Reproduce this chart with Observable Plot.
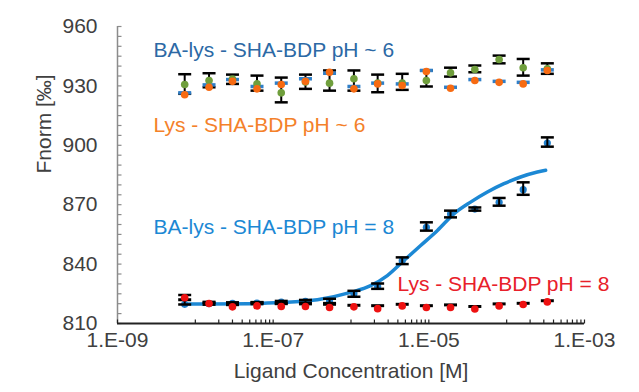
<!DOCTYPE html>
<html><head><meta charset="utf-8">
<script src="https://cdn.jsdelivr.net/npm/d3@7"></script>
<script src="https://cdn.jsdelivr.net/npm/@observablehq/plot@0.6"></script>
<style>body{margin:0;background:#fff;} svg{font-family:"Liberation Sans",Arial,sans-serif;}</style>
</head><body><div id="chart"></div>
<script>
// Ligand concentrations [M]
const conc = [7.3e-9, 1.5e-8, 3.0e-8, 6.2e-8, 1.27e-7, 2.6e-7, 5.3e-7, 1.09e-6, 2.2e-6, 4.55e-6, 9.3e-6, 1.9e-5, 3.9e-5, 8.0e-5, 1.63e-4, 3.33e-4];

// pH ~ 6
const green6  = [930.7, 932.7, 933.4, 931.0, 926.5, 932.0, 931.4, 933.6, 931.5, 931.4, 932.7, 936.6, 938.3, 943.3, 939.2, 938.6];
const orange6 = [925.5, 929.3, 932.3, 928.5, 930.7, 932.3, 936.9, 928.5, 931.0, 930.2, 937.3, 928.8, 932.7, 931.8, 931.0, 937.8];
const blue6   = [926.5, 930.5, 933.2, 929.7, 931.4, 933.6, 936.4, 929.7, 931.4, 931.0, 937.8, 929.3, 933.2, 932.3, 931.8, 938.1];
const err6Lo  = [926.0, 929.3, 931.0, 927.6, 921.7, 928.5, 927.6, 927.6, 926.8, 928.0, 929.7, 934.7, 936.9, 941.4, 935.2, 936.1];
const err6Hi  = [935.9, 936.4, 935.7, 935.2, 934.2, 935.7, 937.8, 937.8, 935.7, 936.1, 937.8, 939.2, 940.3, 945.3, 943.6, 941.4];

// pH = 8
const blue8   = [819.7, 820.0, 820.2, 820.3, 820.8, 821.2, 821.5, 825.0, 828.7, 841.7, 858.5, 865.3, 867.8, 871.2, 877.6, 901.1];
const err8Lo  = [819.6, 819.5, 819.7, 819.8, 820.2, 820.5, 820.3, 823.5, 827.5, 840.0, 856.9, 863.6, 867.0, 869.5, 875.0, 899.3];
const err8Hi  = [824.4, 820.5, 820.7, 820.8, 821.4, 821.9, 822.5, 826.5, 830.2, 843.4, 861.1, 867.0, 868.6, 873.4, 881.3, 904.0];
const red8    = [823.0, 820.1, 818.4, 818.9, 818.6, 818.6, 818.1, 818.4, 817.5, 818.9, 818.1, 818.1, 817.3, 818.9, 819.6, 820.9];
const black8  = [822.0, 820.8, 819.5, 820.5, 820.0, 819.9, 819.7, 819.2, 819.0, 819.7, 819.0, 819.4, 818.6, 819.9, 820.2, 821.5];

// fitted curve
const fitConc = [7.3e-9, 5.1e-8, 1.37e-7, 3.7e-7, 9.9e-7, 1.79e-6, 2.93e-6, 4.79e-6, 7.85e-6, 1.29e-5, 2.10e-5, 3.44e-5, 5.65e-5, 9.23e-5, 1.51e-4, 2.48e-4, 3.17e-4];
const fitVal  = [819.8, 820.0, 820.7, 822.0, 825.7, 829.1, 834.2, 841.8, 849.4, 857.0, 865.4, 871.3, 876.4, 880.6, 884.0, 886.5, 887.4];

// axes
const yMajor = [810, 840, 870, 900, 930, 960];
const yMinor = d3.range(810, 961, 5);
const xMajor = [1e-9, 1e-7, 1e-5, 1e-3];
const xLabels = ["1.E-09", "1.E-07", "1.E-05", "1.E-03"];
const xMinor = [1e-8, 1e-6, 1e-4].flatMap(b => d3.range(1, 10).map(k => k * b));

const labels = ["BA-lys - SHA-BDP pH ~ 6", "Lys - SHA-BDP pH ~ 6", "BA-lys - SHA-BDP pH = 8", "Lys - SHA-BDP pH = 8"];

const idx = d3.range(conc.length);
const hDash = w => ({draw(ctx) { ctx.moveTo(-w / 2, 0); ctx.lineTo(w / 2, 0); }});
const yTickSym = {draw(ctx) { ctx.moveTo(0, 0); ctx.lineTo(4, 0); }};
const xTickSym = {draw(ctx) { ctx.moveTo(0, 0); ctx.lineTo(0, -4); }};
const FS = 21;

const errMarks = (lo, hi) => [
  Plot.ruleX(idx, {x: i => conc[i], y1: i => lo[i], y2: i => hi[i], stroke: "#000", strokeWidth: 2}),
  Plot.dot(idx, {x: i => conc[i], y: i => lo[i], symbol: hDash(13), stroke: "#000", strokeWidth: 2.5, fill: "none"}),
  Plot.dot(idx, {x: i => conc[i], y: i => hi[i], symbol: hDash(13), stroke: "#000", strokeWidth: 2.5, fill: "none"})
];

const chart = Plot.plot({
  width: 639, height: 392,
  marginLeft: 117, marginRight: 55, marginTop: 26, marginBottom: 69,
  style: {fontFamily: "Liberation Sans, Arial, sans-serif", background: "#fff", overflow: "visible"},
  x: {type: "log", domain: [1e-9, 1e-3], axis: null},
  y: {domain: [810, 960], axis: null},
  marks: [
    // axes
    Plot.ruleX([1e-9], {stroke: "#8c8c8c", strokeWidth: 1.5}),
    Plot.dot(yMinor, {y: d => d, frameAnchor: "left", symbol: yTickSym, stroke: "#8c8c8c", fill: "none", strokeWidth: 1.2}),
    Plot.ruleY([810], {stroke: "#222", strokeWidth: 1.8}),
    Plot.dot(xMinor.concat(xMajor), {x: d => d, frameAnchor: "bottom", symbol: xTickSym, stroke: "#222", fill: "none", strokeWidth: 1.2}),
    Plot.text(yMajor, {y: d => d, text: d => String(d), frameAnchor: "left", textAnchor: "end", dx: -20, fontSize: FS, fill: "#404040"}),
    Plot.text(xMajor, {x: d => d, text: (d, i) => xLabels[i], frameAnchor: "bottom", dy: 23.6, fontSize: FS, fill: "#404040"}),
    Plot.text(["Ligand Concentration [M]"], {frameAnchor: "bottom", dy: 54, lineAnchor: "bottom", fontSize: FS, fill: "#404040"}),
    Plot.text(["Fnorm [‰]"], {frameAnchor: "left", rotate: -90, dx: -67, dy: -1.5, lineAnchor: "bottom", fontSize: FS, fill: "#404040"}),

    // pH ~ 6
    ...errMarks(err6Lo, err6Hi),
    Plot.dot(idx, {x: i => conc[i], y: i => blue6[i], symbol: hDash(13), stroke: "#2f7fc8", strokeWidth: 3.5, fill: "none"}),
    Plot.dot(idx, {x: i => conc[i], y: i => green6[i], r: 3.8, fill: "#6f9e3c"}),
    Plot.dot(idx, {x: i => conc[i], y: i => orange6[i], r: 3.8, fill: "#f76b12"}),

    // pH = 8
    Plot.line(fitConc.map((c, i) => [c, fitVal[i]]), {x: d => d[0], y: d => d[1], stroke: "#1c88d4", strokeWidth: 3.5, curve: "monotone-x"}),
    Plot.dot(idx, {x: i => conc[i], y: i => blue8[i], r: 3.6, fill: "#1f7fcc"}),
    ...errMarks(err8Lo, err8Hi),
    Plot.dot(idx, {x: i => conc[i], y: i => black8[i], symbol: hDash(13), stroke: "#000", strokeWidth: 3, fill: "none"}),
    Plot.dot(idx, {x: i => conc[i], y: i => red8[i], r: 3.8, fill: "#ee1111"}),

    // series labels
    Plot.text([labels[0]], {frameAnchor: "top-left", dx: 36, dy: 30, textAnchor: "start", lineAnchor: "bottom", fontSize: FS, fill: "#2c69a5"}),
    Plot.text([labels[1]], {frameAnchor: "top-left", dx: 36, dy: 105, textAnchor: "start", lineAnchor: "bottom", fontSize: FS, fill: "#f4812a"}),
    Plot.text([labels[2]], {frameAnchor: "top-left", dx: 36, dy: 207, textAnchor: "start", lineAnchor: "bottom", fontSize: FS, fill: "#1c88d4"}),
    Plot.text([labels[3]], {frameAnchor: "top-left", dx: 280, dy: 264, textAnchor: "start", lineAnchor: "bottom", fontSize: FS, fill: "#e8202a"})
  ]
});
document.getElementById("chart").append(chart);
</script>
</body></html>
